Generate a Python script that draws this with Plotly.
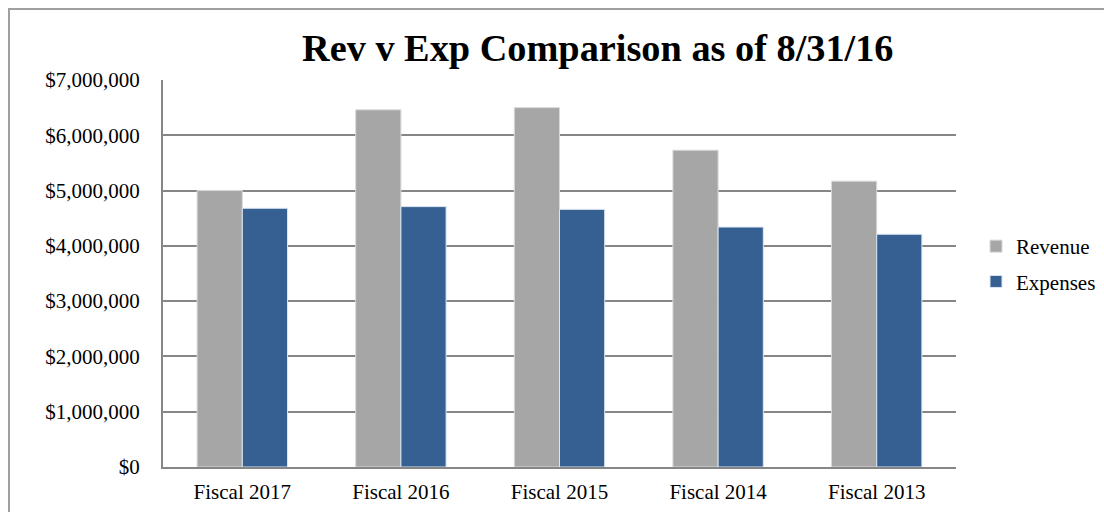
import plotly.graph_objects as go

categories = ["Fiscal 2017", "Fiscal 2016", "Fiscal 2015", "Fiscal 2014", "Fiscal 2013"]
revenue = [5000000, 6460000, 6500000, 5730000, 5170000]
expenses = [4680000, 4710000, 4660000, 4340000, 4210000]
tick_vals = [0, 1000000, 2000000, 3000000, 4000000, 5000000, 6000000, 7000000]
tick_text = ["$0", "$1,000,000", "$2,000,000", "$3,000,000", "$4,000,000",
             "$5,000,000", "$6,000,000", "$7,000,000"]
title_text = "Rev v Exp Comparison as of 8/31/16"

W, H = 1104, 512
L, R, T, B = 163, 148, 80, 45
pw, ph = W - L - R, H - T - B

def px_x(p):
    return (p - L) / pw

def px_y(p):
    return (H - B - p) / ph

fig = go.Figure()
fig.add_trace(go.Bar(name="Revenue", x=categories, y=revenue, legendgroup="rev",
                     marker=dict(color="#A6A6A6", line=dict(color="#D9D9D9", width=1))))
fig.add_trace(go.Bar(name="Expenses", x=categories, y=expenses, legendgroup="exp",
                     marker=dict(color="#376092", line=dict(color="#DCE6F2", width=1))))

fig.update_layout(
    width=W, height=H,
    margin=dict(l=L, r=R, t=T, b=B, autoexpand=False),
    paper_bgcolor="white", plot_bgcolor="white",
    barmode="group", bargap=0.43, bargroupgap=0,
    font=dict(family="Liberation Serif, Times New Roman, serif", size=21, color="black"),
    showlegend=True,
    legend=dict(x=px_x(976), y=px_y(264), xanchor="left", yanchor="middle",
                font=dict(size=21), tracegroupgap=5, itemwidth=30,
                bgcolor="rgba(0,0,0,0)"),
    xaxis=dict(showline=True, linecolor="#868686", linewidth=2, showgrid=False,
               ticks="", ticklabelstandoff=5, tickfont=dict(size=21)),
    yaxis=dict(range=[0, 7000000], tickvals=tick_vals, ticktext=tick_text,
               showgrid=True, gridcolor="#868686", gridwidth=2,
               showline=True, linecolor="#868686", linewidth=2,
               zeroline=False, ticks="", ticklabelstandoff=17,
               tickfont=dict(size=21)),
    annotations=[dict(text="<b>" + title_text + "</b>", xref="paper", yref="paper",
                      x=px_x(598), y=px_y(48), xanchor="center", yanchor="middle",
                      showarrow=False, font=dict(size=38.3, color="black"))],
    shapes=[dict(type="rect", xref="paper", yref="paper",
                 x0=px_x(9), x1=px_x(1120), y0=px_y(530), y1=px_y(9),
                 line=dict(color="#A0A0A0", width=2), layer="below")],
)

fig.write_html("out.html", config={"displayModeBar": False},
               post_script="document.body.style.margin='0';")
